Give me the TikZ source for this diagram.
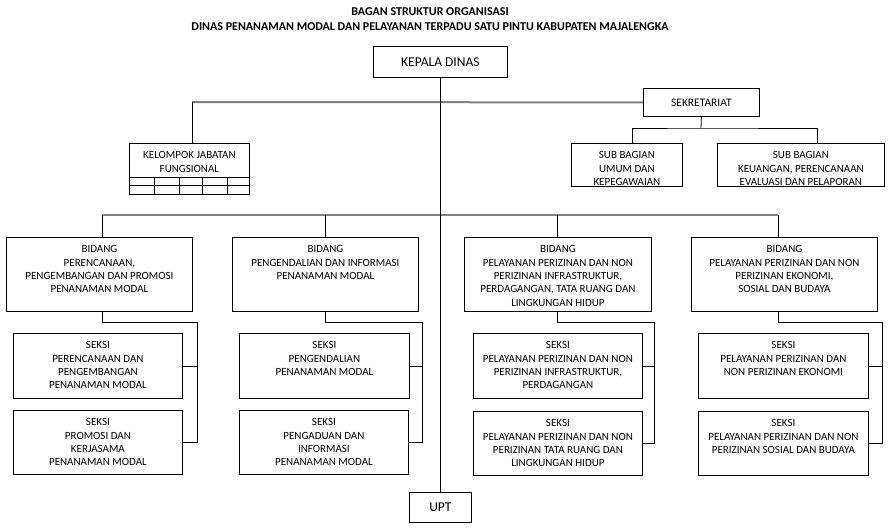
\documentclass[tikz,border=0pt]{standalone}
\usepackage{fontspec}
\setmainfont{Carlito}

% isi kotak: teks rata atas
\newcommand{\isi}[3]{\parbox[c][#2][t]{#1}{\centering\vspace*{8.4pt}#3\par}}

\tikzset{
  kotak/.style={draw, line width=0.8pt, inner sep=0pt, anchor=north west,
    font=\fontsize{11}{13.3}\selectfont},
  besar/.style={draw, line width=0.8pt, anchor=north west},
  garis/.style={line width=0.8pt},
  garisabu/.style={line width=2pt, gray},
}

\begin{document}
\begin{tikzpicture}[x=1pt, y=-1pt]
  \useasboundingbox (0,0) rectangle (894,528);

  % judul
  \node[font=\bfseries\fontsize{12}{14}\selectfont] (judul1) at (430,12) {BAGAN STRUKTUR ORGANISASI};
  \node[font=\bfseries\fontsize{12}{14}\selectfont] (judul2) at (430,27) {DINAS PENANAMAN MODAL DAN PELAYANAN TERPADU SATU PINTU KABUPATEN MAJALENGKA};

  % pimpinan dan sekretariat
  \node[besar, minimum width=134pt, minimum height=31pt, font=\fontsize{13.5}{15}\selectfont] (kadis) at (373,46) {KEPALA DINAS};
  \node[besar, minimum width=116pt, minimum height=28pt, font=\fontsize{11.5}{14}\selectfont] (sekre) at (643,88) {SEKRETARIAT};
  \node[kotak] (kjf) at (129,143) {\isi{120pt}{51pt}{KELOMPOK JABATAN\\FUNGSIONAL}};
  \node[kotak] (sub1) at (571,143) {\isi{111pt}{43pt}{SUB BAGIAN\\UMUM DAN\\KEPEGAWAIAN}};
  \node[kotak] (sub2) at (717,143) {\isi{167pt}{43pt}{SUB BAGIAN\\KEUANGAN, PERENCANAAN\\EVALUASI DAN PELAPORAN}};

  % kolom jabatan fungsional
  \draw[garis] (129,177) -- (249,177);
  \draw[garis] (129,185) -- (249,185);
  \foreach \kx in {154,179,202,227}
    \draw[garis] (\kx,177) -- (\kx,194);

  % bidang
  \node[kotak] (bid1) at (6,237) {\isi{186pt}{74pt}{BIDANG\\PERENCANAAN,\\PENGEMBANGAN DAN PROMOSI\\PENANAMAN MODAL}};
  \node[kotak] (bid2) at (232,237) {\isi{186pt}{74pt}{BIDANG\\PENGENDALIAN DAN INFORMASI\\PENANAMAN MODAL}};
  \node[kotak] (bid3) at (464,237) {\isi{187pt}{74pt}{BIDANG\\PELAYANAN PERIZINAN DAN NON\\PERIZINAN INFRASTRUKTUR,\\PERDAGANGAN, TATA RUANG DAN\\LINGKUNGAN HIDUP}};
  \node[kotak] (bid4) at (691,237) {\isi{186pt}{74pt}{BIDANG\\PELAYANAN PERIZINAN DAN NON\\PERIZINAN EKONOMI,\\SOSIAL DAN BUDAYA}};

  % seksi
  \node[kotak] (s11) at (13,333) {\isi{169pt}{65pt}{SEKSI\\PERENCANAAN DAN\\PENGEMBANGAN\\PENANAMAN MODAL}};
  \node[kotak] (s12) at (13,410) {\isi{169pt}{64pt}{SEKSI\\PROMOSI DAN\\KERJASAMA\\PENANAMAN MODAL}};
  \node[kotak] (s21) at (239,333) {\isi{170pt}{65pt}{SEKSI\\PENGENDALIAN\\PENANAMAN MODAL}};
  \node[kotak] (s22) at (239,410) {\isi{169pt}{64pt}{SEKSI\\PENGADUAN DAN\\INFORMASI\\PENANAMAN MODAL}};
  \node[kotak] (s31) at (473,333) {\isi{169pt}{65pt}{SEKSI\\PELAYANAN PERIZINAN DAN NON\\PERIZINAN INFRASTRUKTUR,\\PERDAGANGAN}};
  \node[kotak] (s32) at (473,411) {\isi{169pt}{64pt}{SEKSI\\PELAYANAN PERIZINAN DAN NON\\PERIZINAN TATA RUANG DAN\\LINGKUNGAN HIDUP}};
  \node[kotak] (s41) at (698,333) {\isi{170pt}{65pt}{SEKSI\\PELAYANAN PERIZINAN DAN\\NON PERIZINAN EKONOMI}};
  \node[kotak] (s42) at (698,411) {\isi{170pt}{64pt}{SEKSI\\PELAYANAN PERIZINAN DAN NON\\PERIZINAN SOSIAL DAN BUDAYA}};

  \node[besar, minimum width=62pt, minimum height=30pt, font=\fontsize{13.5}{15}\selectfont] (upt) at (409,492) {UPT};

  % garis abu-abu
  \coordinate (atas) at (192,102);
  \coordinate (tengah) at (102,215);
  \draw[garisabu] (atas) -- (sekre.west);
  \draw[garisabu] (tengah) -- (778,215);

  % garis komando
  \draw[garis] (kadis.south) -- (upt.north);
  \draw[garis] (atas) -- (kjf.north -| atas);
  \coordinate (bagi) at (701,128);
  \draw[garis] (sekre.south) -- (bagi);
  \draw[garis] ([xshift=5pt]sub1.north) |- (bagi) -| ([xshift=16pt]sub2.north);
  \draw[garis] (tengah) -- (bid1.north -| tengah);
  \draw[garis] (bid2.north |- tengah) -- (bid2.north);
  \draw[garis] ([xshift=-1pt]bid3.north |- tengah) -- ([xshift=-1pt]bid3.north);
  \draw[garis] ([xshift=-6pt]bid4.north |- tengah) -- ([xshift=-6pt]bid4.north);

  % bidang ke seksi
  \coordinate (g1) at (197,322);
  \coordinate (g2) at (422,322);
  \coordinate (g3) at (654,322);
  \coordinate (g4) at (882,322);
  \draw[garis] (bid1.south -| tengah) |- (g1) |- (s12.east);
  \draw[garis] (s11.east) -- (s11.east -| g1);
  \draw[garis] (bid2.south) |- (g2) |- (s22.east);
  \draw[garis] (s21.east) -- (s21.east -| g2);
  \draw[garis] ([xshift=-1pt]bid3.south) |- (g3) |- (s32.east);
  \draw[garis] (s31.east) -- (s31.east -| g3);
  \draw[garis] ([xshift=-6pt]bid4.south) |- (g4) |- (s42.east);
  \draw[garis] (s41.east) -- (s41.east -| g4);
\end{tikzpicture}
\end{document}
